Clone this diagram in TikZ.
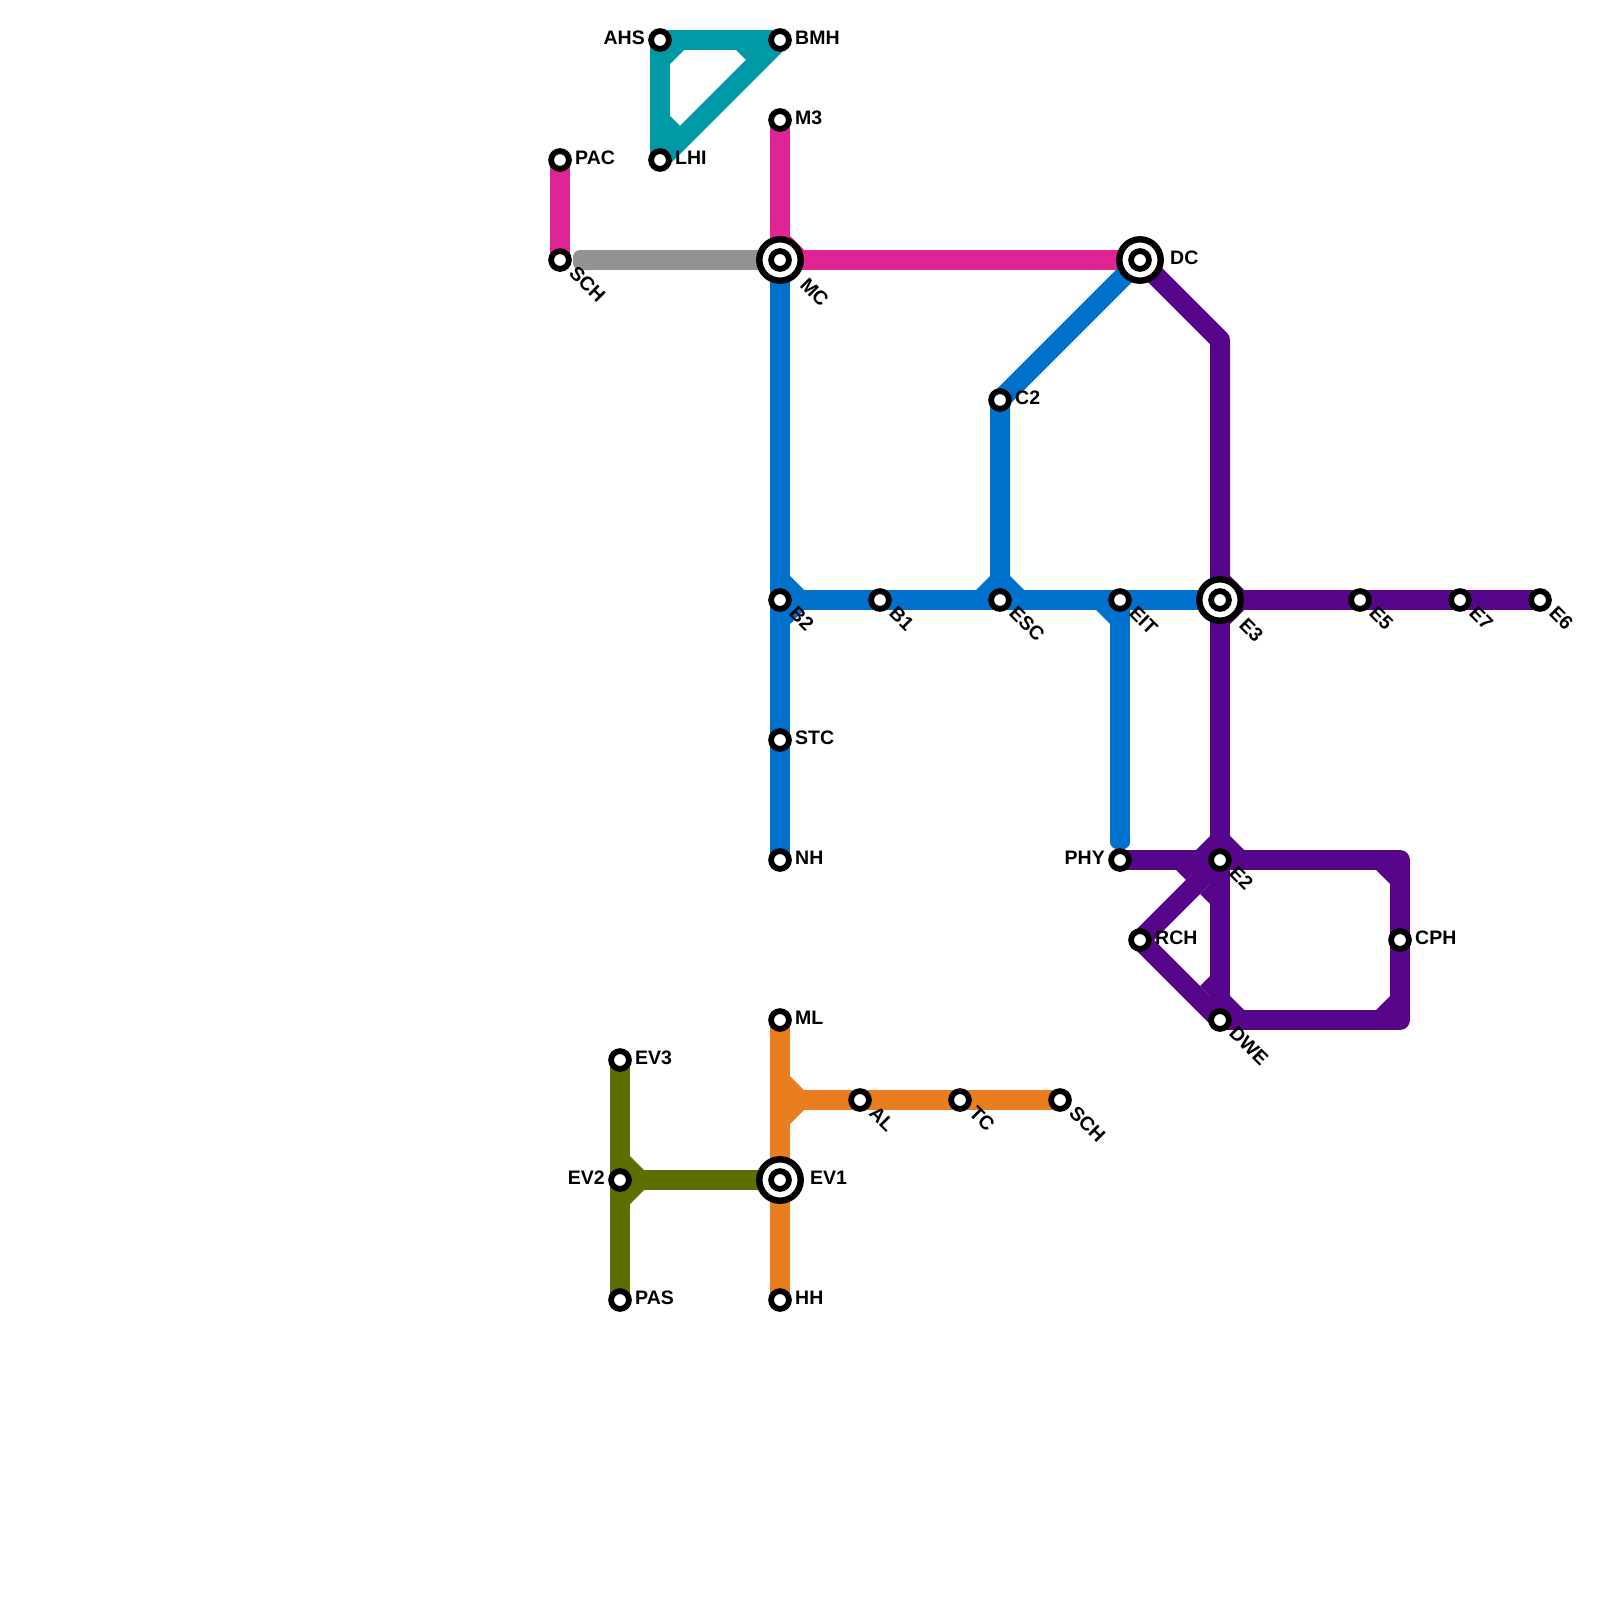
\documentclass[tikz,border=0pt]{standalone}
\usepackage{fontspec}
\setmainfont{Liberation Sans}
\usetikzlibrary{calc}
\pgfdeclarelayer{bg}
\pgfsetlayers{bg,main}
\definecolor{cteal}{HTML}{0099A6}
\definecolor{cpink}{HTML}{E02495}
\definecolor{cgrey}{HTML}{939393}
\definecolor{cblue}{HTML}{0072CE}
\definecolor{cpurple}{HTML}{57068C}
\definecolor{colive}{HTML}{5C6F00}
\definecolor{corange}{HTML}{EA7D1E}
\tikzset{
  stn/.style={circle,draw=black,fill=white,line width=5.8pt,outer sep=0pt,minimum size=17.8pt,inner sep=0pt},
  hub/.style={circle,draw=black,fill=white,line width=6.4pt,outer sep=0pt,minimum size=41.4pt,inner sep=0pt},
  lab/.style={font=\bfseries\fontsize{19.5}{19.5}\selectfont,inner sep=0pt,text=black},
  route/.style={line width=20pt,line join=round,line cap=butt}
}
\newcommand{\labR}[3]{\node[lab,anchor=base west] (#1) at ($(#2)+(15,4.6)$) {#3};}
\newcommand{\labL}[3]{\node[lab,anchor=base east] (#1) at ($(#2)+(-15,4.6)$) {#3};}
\newcommand{\labD}[3]{\node[lab,anchor=base west,rotate=-45] (#1) at ($(#2)+(8,14)$) {#3};}
\newcommand{\tri}[7]{\fill[#1] (#2,#3) -- (#4,#5) -- (#6,#7) -- cycle;}
\begin{document}
\begin{tikzpicture}[x=1pt,y=-1pt]
\useasboundingbox (0,0) rectangle (1600,1600);
% hubs
\node[hub] (hMC) at (780,260) {};
\node[hub] (hDC) at (1140,260) {};
\node[hub] (hE3) at (1220,600) {};
\node[hub] (hEV1) at (780,1180) {};
% stations
\node[stn] (AHS) at (660,40) {};
\node[stn] (BMH) at (780,40) {};
\node[stn] (LHI) at (660,160) {};
\node[stn] (M3) at (780,120) {};
\node[stn] (PAC) at (560,160) {};
\node[stn] (SCHa) at (560,260) {};
\node[stn] (MC) at (780,260) {};
\node[stn] (DC) at (1140,260) {};
\node[stn] (C2) at (1000,400) {};
\node[stn] (B2) at (780,600) {};
\node[stn] (B1) at (880,600) {};
\node[stn] (ESC) at (1000,600) {};
\node[stn] (EIT) at (1120,600) {};
\node[stn] (E3) at (1220,600) {};
\node[stn] (E5) at (1360,600) {};
\node[stn] (E7) at (1460,600) {};
\node[stn] (E6) at (1540,600) {};
\node[stn] (STC) at (780,740) {};
\node[stn] (NH) at (780,860) {};
\node[stn] (PHY) at (1120,860) {};
\node[stn] (E2) at (1220,860) {};
\node[stn] (RCH) at (1140,940) {};
\node[stn] (CPH) at (1400,940) {};
\node[stn] (DWE) at (1220,1020) {};
\node[stn] (ML) at (780,1020) {};
\node[stn] (AL) at (860,1100) {};
\node[stn] (TC) at (960,1100) {};
\node[stn] (SCHb) at (1060,1100) {};
\node[stn] (EV1) at (780,1180) {};
\node[stn] (HH) at (780,1300) {};
\node[stn] (EV3) at (620,1060) {};
\node[stn] (EV2) at (620,1180) {};
\node[stn] (PAS) at (620,1300) {};
\coordinate (bendDC) at (1220,340);
\coordinate (boxTR) at (1400,860);
\coordinate (boxBR) at (1400,1020);
\coordinate (mlj) at (780,1100);
% labels
\labL{tAHS}{AHS}{AHS}
\labR{tBMH}{BMH}{BMH}
\labR{tLHI}{LHI}{LHI}
\labR{tM3}{M3}{M3}
\labR{tPAC}{PAC}{PAC}
\labD{tSCHa}{SCHa}{SCH}
\node[lab,anchor=base west,rotate=-45] (tMC) at ($(MC)+(19,26)$) {MC};
\node[lab,anchor=base west] (tDC) at ($(DC)+(30,4.6)$) {DC};
\labR{tC2}{C2}{C2}
\labD{tB2}{B2}{B2}
\labD{tB1}{B1}{B1}
\labD{tESC}{ESC}{ESC}
\labD{tEIT}{EIT}{EIT}
\node[lab,anchor=base west,rotate=-45] (tE3) at ($(E3)+(18,26)$) {E3};
\labD{tE5}{E5}{E5}
\labD{tE7}{E7}{E7}
\labD{tE6}{E6}{E6}
\labR{tSTC}{STC}{STC}
\labR{tNH}{NH}{NH}
\labL{tPHY}{PHY}{PHY}
\labD{tE2}{E2}{E2}
\labR{tRCH}{RCH}{RCH}
\labR{tCPH}{CPH}{CPH}
\labD{tDWE}{DWE}{DWE}
\labR{tML}{ML}{ML}
\labD{tAL}{AL}{AL}
\labD{tTC}{TC}{TC}
\labD{tSCHb}{SCHb}{SCH}
\node[lab,anchor=base west] (tEV1) at ($(EV1)+(30,4.6)$) {EV1};
\labR{tHH}{HH}{HH}
\labR{tEV3}{EV3}{EV3}
\labL{tEV2}{EV2}{EV2}
\labR{tPAS}{PAS}{PAS}
\begin{pgfonlayer}{bg}
% teal
\draw[route,cteal] (AHS.center) -- (BMH.center);
\draw[route,cteal] (AHS.center) -- (LHI.center);
\draw[route,cteal] (BMH.center) -- (LHI.center);
\tri{cteal}{670}{50}{670}{64}{684}{50}
\tri{cteal}{736}{50}{746}{60}{756}{50}
\tri{cteal}{670}{116}{680}{126}{670}{136}
% pink
\draw[route,cpink] (PAC.center) -- (SCHa.center);
\draw[route,cpink] (M3.center) -- (MC.center);
\draw[route,cpink] (MC.center) -- (DC.center);
\tri{cpink}{790}{236}{804}{250}{790}{250}
% grey
\draw[route,cgrey,shorten <=25pt] (SCHa.center) -- (MC.center);
\fill[cgrey,rounded corners=7pt] (573,250) rectangle (600,270);
% blue
\draw[route,cblue] (MC.center) -- (B2.center);
\draw[route,cblue] (B2.center) -- (STC.center);
\draw[route,cblue] (STC.center) -- (NH.center);
\draw[route,cblue] (B2.center) -- (B1.center);
\draw[route,cblue] (B1.center) -- (ESC.center);
\draw[route,cblue] (ESC.center) -- (EIT.center);
\draw[route,cblue] (EIT.center) -- (E3.center);
\draw[route,cblue] (DC.center) -- (C2.center) -- (ESC.center);
\draw[route,cblue,shorten >=20pt] (EIT.center) -- (PHY.center);
\fill[cblue,rounded corners=7pt] (1110,830) rectangle (1130,849);
\tri{cblue}{790}{576}{804}{590}{790}{590}
\tri{cblue}{790}{624}{804}{610}{790}{610}
\tri{cblue}{990}{576}{976}{590}{990}{590}
\tri{cblue}{1010}{576}{1024}{590}{1010}{590}
\tri{cblue}{1096}{610}{1110}{610}{1110}{624}
% purple
\draw[route,cpurple] (DC.center) -- (bendDC) -- (E3.center);
\draw[route,cpurple] (E3.center) -- (E5.center);
\draw[route,cpurple] (E5.center) -- (E7.center);
\draw[route,cpurple] (E7.center) -- (E6.center);
\draw[route,cpurple] (E3.center) -- (E2.center);
\draw[route,cpurple] (E2.center) -- (DWE.center);
\draw[route,cpurple] (PHY.center) -- (E2.center);
\draw[route,cpurple] (E2.center) -- (RCH.center);
\draw[route,cpurple] (RCH.center) -- (DWE.center);
\draw[route,cpurple] (E2.center) -- (boxTR) -- (CPH.center) -- (boxBR) -- (DWE.center);
\tri{cpurple}{1230}{576}{1244}{590}{1230}{590}
\tri{cpurple}{1230}{624}{1244}{610}{1230}{610}
\tri{cpurple}{1210}{836}{1196}{850}{1210}{850}
\tri{cpurple}{1230}{836}{1244}{850}{1230}{850}
\tri{cpurple}{1176}{870}{1186}{880}{1196}{870}
\tri{cpurple}{1200}{894}{1210}{904}{1210}{884}
\tri{cpurple}{1376}{870}{1390}{870}{1390}{884}
\tri{cpurple}{1390}{996}{1390}{1010}{1376}{1010}
\tri{cpurple}{1230}{996}{1244}{1010}{1230}{1010}
\tri{cpurple}{1210}{976}{1200}{986}{1210}{996}
% orange
\draw[route,corange] (ML.center) -- (EV1.center);
\draw[route,corange] (EV1.center) -- (HH.center);
\draw[route,corange] (mlj) -- (AL.center);
\draw[route,corange] (AL.center) -- (TC.center);
\draw[route,corange] (TC.center) -- (SCHb.center);
\tri{corange}{790}{1076}{804}{1090}{790}{1090}
\tri{corange}{790}{1124}{804}{1110}{790}{1110}
% olive
\draw[route,colive] (EV3.center) -- (EV2.center);
\draw[route,colive] (EV2.center) -- (PAS.center);
\draw[route,colive] (EV2.center) -- (EV1.center);
\tri{colive}{630}{1156}{644}{1170}{630}{1170}
\tri{colive}{630}{1204}{644}{1190}{630}{1190}
\end{pgfonlayer}
\end{tikzpicture}
\end{document}
